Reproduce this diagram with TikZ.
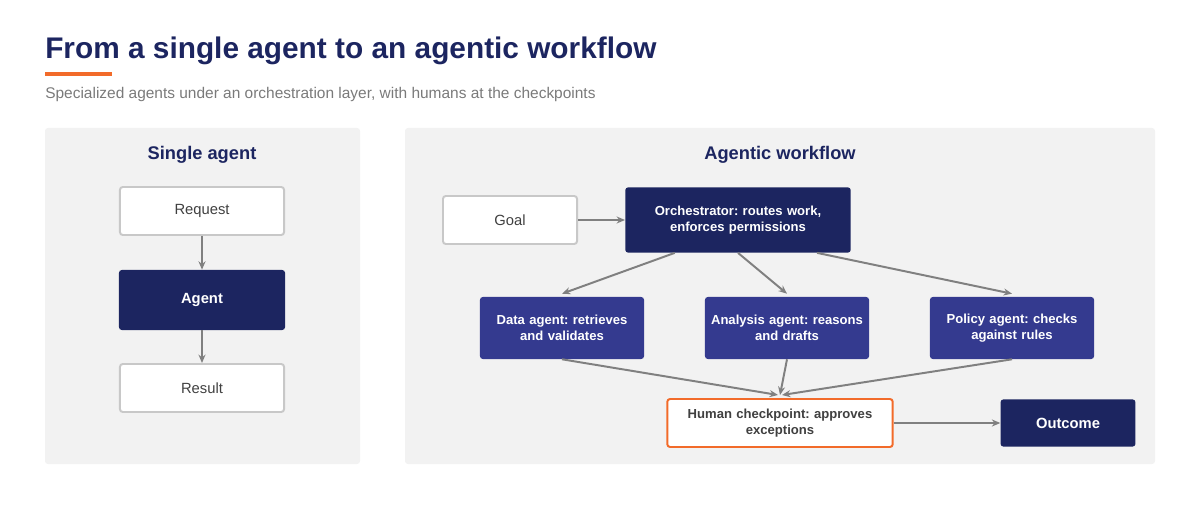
\documentclass[tikz,border=0pt]{standalone}
\usepackage{fontspec}
\setmainfont{Liberation Sans}
\usetikzlibrary{positioning, arrows.meta, calc}
\definecolor{navy}{HTML}{1C2560}
\definecolor{agentblue}{HTML}{343A8F}
\definecolor{panelgray}{HTML}{F2F2F2}
\definecolor{accent}{HTML}{F26B2A}
\definecolor{arrowgray}{HTML}{808080}
\definecolor{boxgray}{HTML}{C8C8C8}
\definecolor{subgray}{HTML}{7A7A7A}
\frenchspacing

\begin{document}
\begin{tikzpicture}[
        x=0.025cm, y=-0.025cm,
        panel/.style={fill=panelgray, rounded corners=2pt},
        plain/.style={rectangle, draw=boxgray, line width=1.4pt, fill=white, rounded corners=2pt, minimum height=1.2cm, font=\fontsize{10.5}{12}\selectfont, text=black!75},
        dark/.style={rectangle, fill=navy, rounded corners=2pt, text=white, font=\bfseries\fontsize{9.3}{11.5}\selectfont, align=center},
        worker/.style={dark, fill=agentblue, minimum width=4.1cm, minimum height=1.55cm, inner xsep=1pt, text width=4cm},
        flow/.style={-{Stealth[length=6pt,width=5pt]}, draw=arrowgray, line width=1.4pt},
        ptitle/.style={font=\bfseries\fontsize{13}{16}\selectfont, text=navy},
    ]
    \useasboundingbox (0,0) rectangle (1200,510);

    % Heading
    \node[anchor=west, inner sep=0pt, font=\bfseries\fontsize{21.2}{26}\selectfont, text=navy] (title) at (45,51) {From a single agent to an agentic workflow};
    \fill[accent] (45,72) rectangle (112,76);
    \node[anchor=west, inner sep=0pt, font=\fontsize{11}{14}\selectfont, text=subgray] (sub) at (45,95) {Specialized agents under an orchestration layer, with humans at the checkpoints};

    % Panels
    \fill[panel] (45,128) rectangle (360,464);
    \fill[panel] (405,128) rectangle (1155,464);

    % Single agent
    \node[ptitle] (single) at (202,155) {Single agent};
    \node[plain, minimum width=4.1cm] (request) at (202,211) {Request};
    \node[dark, minimum width=4.15cm, minimum height=1.5cm, font=\bfseries\fontsize{10.5}{13}\selectfont] (agent) at (202,300) {Agent};
    \node[plain, minimum width=4.1cm] (result) at (202,388) {Result};
    \draw[flow] (request) -- (agent);
    \draw[flow] (agent) -- (result);

    % Agentic workflow
    \node[ptitle] (workflow) at (780,155) {Agentic workflow};
    \node[plain, minimum width=3.35cm] (goal) at (510,220) {Goal};
    \node[dark, minimum width=5.6cm, minimum height=1.63cm, text width=5.4cm] (orch) at (738,220) {Orchestrator: routes work,\\enforces permissions};
    \node[worker] (data) at (562,328) {Data agent: retrieves\\and validates};
    \node[worker] (analysis) at (787,328) {Analysis agent: reasons\\and drafts};
    \node[worker] (policy) at (1012,328) {Policy agent: checks\\against rules};
    \node[rectangle, draw=accent, line width=1.4pt, fill=white, rounded corners=2pt, minimum width=5.6cm, minimum height=1.2cm, text width=5.4cm, align=center, font=\bfseries\fontsize{9.3}{11.5}\selectfont, text=black!75] (human) at (780,423) {Human checkpoint: approves\\exceptions};
    \node[dark, minimum width=3.37cm, minimum height=1.18cm, font=\bfseries\fontsize{10.5}{13}\selectfont] (outcome) at (1068,423) {Outcome};

    \draw[flow] (goal) -- (orch);
    \draw[flow] ($(orch.south west)!0.22!(orch.south east)$) -- ($(data.north)+(0,-3)$);
    \draw[flow] ($(orch.south west)!0.5!(orch.south east)$) -- ($(analysis.north)+(0,-3)$);
    \draw[flow] ($(orch.south west)!0.85!(orch.south east)$) -- ($(policy.north)+(0,-3)$);
    \draw[flow] (data.south) -- ($(human.north)+(-2,-3)$);
    \draw[flow] (analysis.south) -- ($(human.north)+(0,-3)$);
    \draw[flow] (policy.south) -- ($(human.north)+(2,-3)$);
    \draw[flow] (human) -- (outcome);
\end{tikzpicture}
\end{document}
